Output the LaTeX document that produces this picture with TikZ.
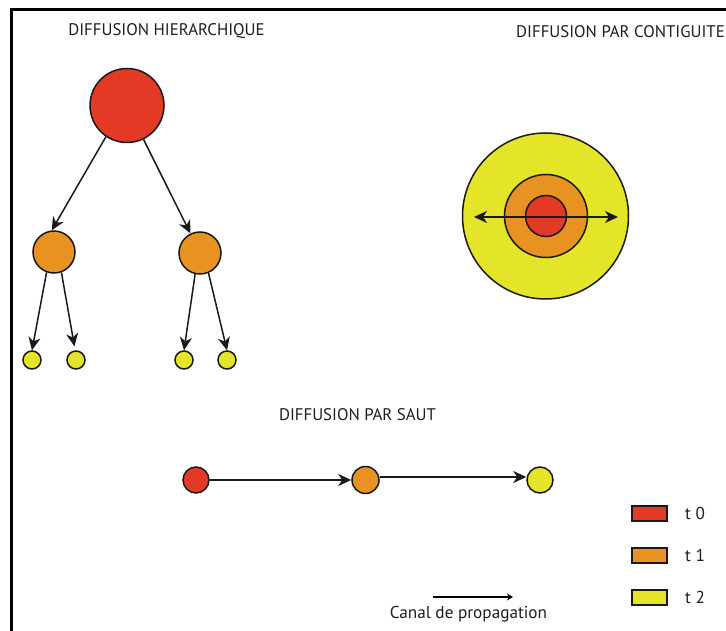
\documentclass[tikz,border=0pt]{standalone}
\usepackage{fontspec}
\setmainfont{PT Sans}
\usetikzlibrary{arrows.meta}
\definecolor{cred}{RGB}{227,58,38}
\definecolor{corange}{RGB}{232,146,34}
\definecolor{cyellow}{RGB}{228,228,40}
\definecolor{ctext}{RGB}{30,30,30}
\begin{document}
\begin{tikzpicture}[x=1pt,y=-1pt,
  circ/.style={circle,draw=black!90,line width=1.5pt,inner sep=0pt,minimum size=#1},
  arr/.style={-{Stealth[length=13pt,width=12pt,inset=4pt]},line width=1.5pt,draw=black!90},
  darr/.style={{Stealth[length=13pt,width=12pt,inset=4pt]}-{Stealth[length=13pt,width=12pt,inset=4pt]},line width=1.5pt,draw=black!90},
  smallarr/.style={-{Stealth[length=6pt,width=7pt]},line width=1.3pt},
  legbox/.style={rectangle,draw=black!90,line width=1.5pt,inner sep=0pt,minimum width=35pt,minimum height=15pt},
  title/.style={font=\fontsize{16.8}{17}\selectfont,text=ctext,inner sep=0pt},
  lab/.style={font=\fontsize{17.2}{18}\selectfont,text=ctext,inner sep=0pt}]
\useasboundingbox (0,0) rectangle (726,631);
\draw[line width=3pt] (11,631) -- (11,10) -- (726,10);

% titles
\node[title] (T1) at (166.5,31.3) {DIFFUSION HIERARCHIQUE};
\node[title] (T2) at (620.5,31.3) {DIFFUSION PAR CONTIGUITE};
\node[title] (T3) at (357.5,415) {DIFFUSION PAR SAUT};

% hierarchical
\node[circ=74pt,fill=cred] (R) at (127,105.5) {};
\node[circ=42pt,fill=corange] (O1) at (54,252) {};
\node[circ=42pt,fill=corange] (O2) at (200,253) {};
\node[circ=18pt,fill=cyellow] (Y1) at (32,360) {};
\node[circ=18pt,fill=cyellow] (Y2) at (76,360) {};
\node[circ=18pt,fill=cyellow] (Y3) at (184,360) {};
\node[circ=18pt,fill=cyellow] (Y4) at (227,360) {};
\draw[arr] (R.236) -- (O1.96);
\draw[arr] (R.296) -- (O2.116);
\draw[arr] (O1.250) -- (Y1.90);
\draw[arr,shorten >=4pt] (O1.290) -- (Y2.95);
\draw[arr] (O2.257) -- (Y3.90);
\draw[arr] (O2.293) -- (Y4.90);

% contiguity
\node[circ=166pt,fill=cyellow] (C3) at (545.5,216) {};
\node[circ=83pt,fill=corange] (C2) at (546,216) {};
\node[circ=41pt,fill=cred] (C1) at (546,216) {};
\coordinate (CL) at (474,217);
\coordinate (CR) at (618,217);
\draw[darr] (CL) -- (CR);

% jump
\node[circ=26pt,fill=cred] (J1) at (196,480) {};
\node[circ=27pt,fill=corange] (J2) at (365.5,480) {};
\node[circ=26pt,fill=cyellow] (J3) at (540,480) {};
\draw[arr] (J1) -- (J2);
\draw[arr] ([yshift=3pt]J2.east) -- ([yshift=3pt]J3.west);

% legend
\node[legbox,fill=cred] (L0) at (649.5,513.5) {};
\node[legbox,fill=corange] (L1) at (649.5,555.5) {};
\node[legbox,fill=cyellow] (L2) at (649.5,597.5) {};
\node[lab,anchor=west] (LT0) at (685,513.5) {t 0};
\node[lab,anchor=west] (LT1) at (685,555.5) {t 1};
\node[lab,anchor=west] (LT2) at (685,597.5) {t 2};
\coordinate (A1) at (433,597);
\coordinate (A2) at (513,597);
\draw[smallarr] (A1) -- (A2);
\node[lab] (CP) at (468.5,614.5) {Canal de propagation};
\end{tikzpicture}
\end{document}
